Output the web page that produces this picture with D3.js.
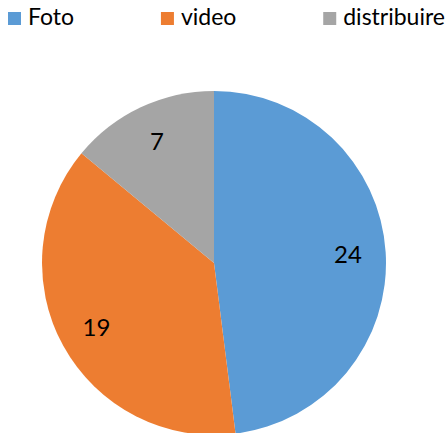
<!DOCTYPE html>
<html>
<head>
<meta charset="utf-8">
<script src="https://cdn.jsdelivr.net/npm/d3@7"></script>
<style>
  html, body { margin: 0; padding: 0; background: #fff; }
  #chart { width: 446px; height: 433px; overflow: hidden; }
  text { font-family: Lato, "Open Sans", sans-serif; fill: #000; }
</style>
</head>
<body>
<div id="chart"></div>
<script>
let categories = ['Foto', 'video', 'distribuire']
let values = [24, 19, 7]
let colors = ['#5B9BD5', '#ED7D31', '#A5A5A5']

let width = 446, height = 433

function draw() {
  let svg = d3.select('#chart').append('svg')
    .attr('width', width)
    .attr('height', height)

  let color = d3.scaleOrdinal().domain(categories).range(colors)

  // pie, clockwise from 12 o'clock, no sorting
  let radius = 172
  let cx = 214, cy = 263
  let pie = d3.pie().sort(null).value(function(d) { return d.value })
  let slices = pie(categories.map(function(c, i) { return { name: c, value: values[i] } }))

  let arc = d3.arc().innerRadius(0).outerRadius(radius)
  let labelArc = d3.arc().innerRadius(radius * 0.78).outerRadius(radius * 0.78)

  let g = svg.append('g').attr('transform', 'translate(' + cx + ',' + cy + ')')

  g.selectAll('path')
    .data(slices)
    .enter()
    .append('path')
      .attr('d', arc)
      .attr('fill', function(d) { return color(d.data.name) })

  g.selectAll('text')
    .data(slices)
    .enter()
    .append('text')
      .attr('transform', function(d) { return 'translate(' + labelArc.centroid(d) + ')' })
      .attr('text-anchor', 'middle')
      .attr('dy', '0.36em')
      .style('font-size', '24px')
      .text(function(d) { return d.data.value })

  // legend: items spread across the top with equal gaps
  let legend = svg.append('g')
  let items = legend.selectAll('g')
    .data(categories)
    .enter()
    .append('g')

  items.append('rect')
    .attr('width', 13)
    .attr('height', 13)
    .attr('y', 12)
    .attr('fill', function(d) { return color(d) })

  items.append('text')
    .attr('x', 20)
    .attr('y', 25)
    .style('font-size', '23px')
    .text(function(d) { return d })

  let widths = []
  items.each(function() { widths.push(this.getBBox().width) })
  let left = 8, right = 445
  let total = d3.sum(widths)
  let gap = (right - left - total) / (categories.length - 1)
  let x = left
  items.attr('transform', function(d, i) {
    let t = 'translate(' + x + ',0)'
    x += widths[i] + gap
    return t
  })
}

draw()
</script>
</body>
</html>
